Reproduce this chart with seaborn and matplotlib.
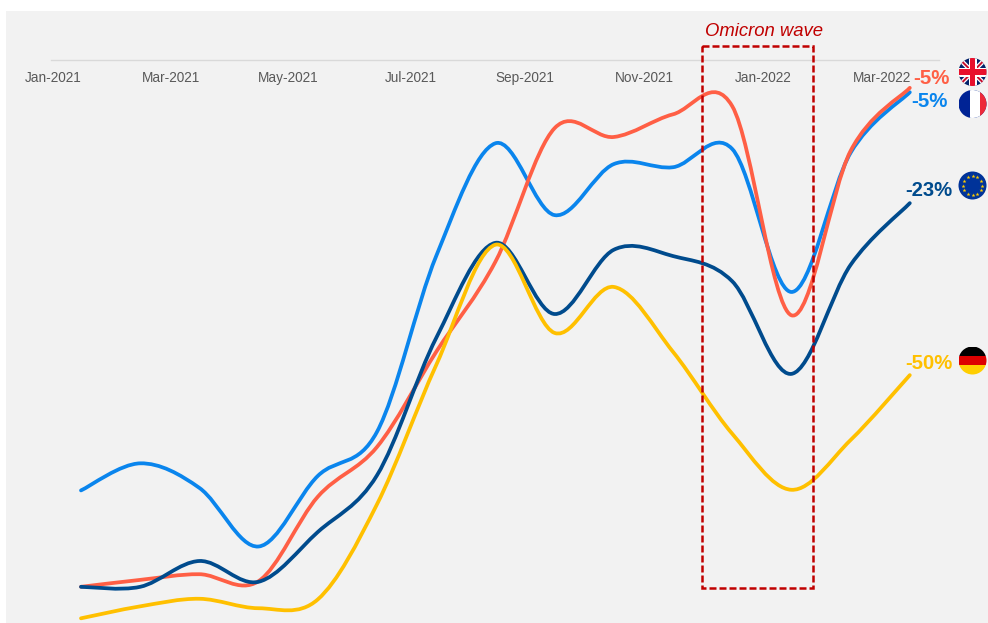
import numpy as np
import pandas as pd
import matplotlib
matplotlib.use('Agg')
import matplotlib.pyplot as plt
from matplotlib.patches import Circle, Rectangle, Polygon, PathPatch
from matplotlib.path import Path
import seaborn as sns

sns.set_style("white")
plt.rcParams['font.family'] = ['Liberation Sans', 'DejaVu Sans']

# months since Jan-2021
months = list(range(15))

france = [-68.4, -64.1, -68.0, -77.3, -66.1, -59.1, -31.2, -13.3, -24.7, -16.6, -17.1, -14.2, -36.9, -14.8, -5.2]
uk = [-83.7, -82.6, -81.7, -82.8, -69.4, -61.5, -46.4, -32.1, -10.9, -12.3, -8.7, -7.4, -40.6, -14.5, -4.5]
eu = [-83.7, -83.7, -79.6, -82.9, -75.0, -66.0, -44.2, -29.1, -40.4, -30.2, -31.2, -35.2, -49.9, -32.6, -22.8]
germany = [-88.7, -86.8, -85.6, -87.1, -85.7, -70.6, -48.5, -29.4, -43.4, -36.1, -46.4, -59.4, -68.3, -60.4, -50.1]

tick_labels = ['Jan-2021', 'Mar-2021', 'May-2021', 'Jul-2021', 'Sep-2021', 'Nov-2021', 'Jan-2022', 'Mar-2022']
tick_label_px = [53, 171, 288, 411, 525, 644, 763, 882]

colors = {'France': '#0a85ed', 'UK': '#ff5f45', 'EU': '#004b8d', 'Germany': '#ffc000'}
line_width = 2.7

df = pd.DataFrame({'month': months, 'France': france, 'UK': uk, 'EU': eu, 'Germany': germany})
df = df.melt(id_vars='month', var_name='country', value_name='change')

W, H = 988, 623
fig = plt.figure(figsize=(W / 100, H / 100), dpi=100, facecolor='white')
fig.add_artist(Rectangle((6 / W, 0), (W - 6) / W, (H - 11) / H, transform=fig.transFigure,
                         facecolor='#f2f2f2', edgecolor='none', zorder=-1))


def smooth_stroke(line, level):
    # the original uses spreadsheet "smoothed" lines: bezier pieces through the line's own points
    pts = line.get_xydata()
    before = np.vstack([pts[0], pts[:-1]])
    after = np.vstack([pts[1:], pts[-1]])
    tangent = (after - before) / 6
    verts = [pts[0]]
    codes = [Path.MOVETO]
    for i in range(len(pts) - 1):
        verts += [pts[i] + tangent[i], pts[i + 1] - tangent[i + 1], pts[i + 1]]
        codes += [Path.CURVE4] * 3
    return PathPatch(Path(verts, codes), fill=False, edgecolor=line.get_color(), linewidth=line.get_linewidth(),
                     capstyle='round', joinstyle='round', zorder=level)


# axis spans half a month either side of the data
ax = fig.add_axes([51.4 / W, 0, 888 / W, (H - 59.5) / H])
ax.patch.set_alpha(0)
sns.lineplot(data=df, x='month', y='change', hue='country', hue_order=list(colors),
             palette=colors, linewidth=line_width, legend=False, ax=ax, errorbar=None)
for i, line in enumerate(list(ax.get_lines())):
    ax.add_patch(smooth_stroke(line, 3 + i))
    line.set_visible(False)
ax.set_xlim(-0.5, 14.5)
ax.set_ylim(-(H - 59.5) / 6.3, 0)
ax.set_xticks([])
ax.set_yticks([])
ax.set_xlabel('')
ax.set_ylabel('')
for side in ['left', 'right', 'bottom']:
    ax.spines[side].set_visible(False)
ax.spines['top'].set_color('#d9d9d9')
ax.spines['top'].set_linewidth(1)

# overlay in pixels for the annotations
over = fig.add_axes([0, 0, 1, 1])
over.set_xlim(0, W)
over.set_ylim(H, 0)
over.axis('off')
over.patch.set_alpha(0)

for label, px in zip(tick_labels, tick_label_px):
    over.text(px, 82, label, ha='center', va='baseline', fontsize=9.8, color='#595959')

over.add_patch(Rectangle((702, 46), 111, 542, fill=False, edgecolor='#c00000', linewidth=1.8,
                         linestyle=(0, (2.8, 1.2))))
over.text(764, 36, 'Omicron wave', ha='center', va='baseline', fontsize=13.3, style='italic', color='#c00000')

over.text(949.5, 84, '-5%', ha='right', va='baseline', fontsize=14.8, fontweight='bold', color=colors['UK'])
over.text(948, 107, '-5%', ha='right', va='baseline', fontsize=14.8, fontweight='bold', color=colors['France'])
over.text(952, 195.5, '-23%', ha='right', va='baseline', fontsize=14.6, fontweight='bold', color=colors['EU'])
over.text(952, 369, '-50%', ha='right', va='baseline', fontsize=14.6, fontweight='bold', color=colors['Germany'])


def flag_circle(cx, cy, r=14):
    return Circle((cx, cy), r, transform=over.transData, facecolor='none', edgecolor='none')


def clipped(artist, clip):
    over.add_patch(artist)
    artist.set_clip_path(clip)


def draw_france(cx, cy, r=14):
    clip = flag_circle(cx, cy, r)
    over.add_patch(clip)
    clipped(Rectangle((cx - r, cy - r), 2 * r, 2 * r, facecolor='#002395', edgecolor='none'), clip)
    clipped(Rectangle((cx - r + 11.5, cy - r), 10, 2 * r, facecolor='#ffffff', edgecolor='none'), clip)
    clipped(Rectangle((cx - r + 21.5, cy - r), 7, 2 * r, facecolor='#ed2939', edgecolor='none'), clip)


def draw_germany(cx, cy, r=14):
    clip = flag_circle(cx, cy, r)
    over.add_patch(clip)
    for i, c in enumerate(['#000000', '#dd0000', '#ffce00']):
        clipped(Rectangle((cx - r, cy - r + i * 2 * r / 3), 2 * r, 2 * r / 3, facecolor=c, edgecolor='none'), clip)


def draw_uk(cx, cy, r=14):
    clip = flag_circle(cx, cy, r)
    over.add_patch(clip)
    clipped(Rectangle((cx - r, cy - r), 2 * r, 2 * r, facecolor='#012169', edgecolor='none'), clip)
    for sign in [1, -1]:
        for width, c in [(3.2, '#ffffff'), (1.4, '#c8102e')]:
            clipped(Polygon([(cx - r - width, cy - sign * r), (cx - r + width, cy - sign * r),
                             (cx + r + width, cy + sign * r), (cx + r - width, cy + sign * r)],
                            facecolor=c, edgecolor='none'), clip)
    clipped(Rectangle((cx - 4, cy - r), 8, 2 * r, facecolor='#ffffff', edgecolor='none'), clip)
    clipped(Rectangle((cx - r, cy - 4.5), 2 * r, 9, facecolor='#ffffff', edgecolor='none'), clip)
    clipped(Rectangle((cx - 2.5, cy - r), 5, 2 * r, facecolor='#e8112d', edgecolor='none'), clip)
    clipped(Rectangle((cx - r, cy - 3), 2 * r, 6, facecolor='#e8112d', edgecolor='none'), clip)


def draw_eu(cx, cy, r=14):
    over.add_patch(Circle((cx, cy), r, facecolor='#003399', edgecolor='none'))
    angles = np.arange(12) * np.pi / 6
    over.plot(cx + 9.5 * np.cos(angles), cy + 9.5 * np.sin(angles), linestyle='none', marker='*',
              markersize=3, color='#ffcc00', markeredgewidth=0)


draw_uk(972.5, 72)
draw_france(972.5, 104)
draw_eu(972.5, 185.5)
draw_germany(972.5, 360.5)
over.set_xlim(0, W)
over.set_ylim(H, 0)

fig.savefig('out.png', dpi=100)
